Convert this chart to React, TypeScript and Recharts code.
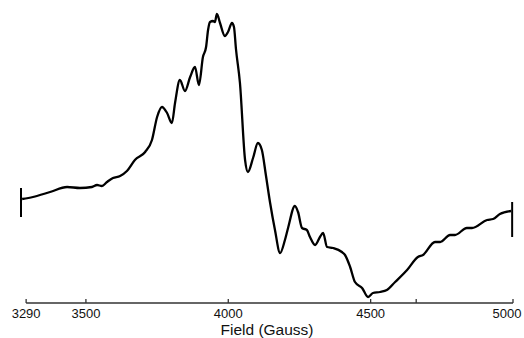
import { LineChart, Line, XAxis, YAxis, ReferenceLine, Label } from "recharts";

// field in Gauss, signal in arbitrary units (derivative EPR spectrum)
const FIELD = [
    3276, 3314, 3374, 3434, 3479, 3521, 3539, 3556, 3574, 3595, 3620, 3644, 3672, 3708, 3732,
    3750, 3767, 3785, 3802, 3813, 3830, 3848, 3866, 3883, 3897, 3911, 3922, 3929, 3936, 3946,
    3953, 3960, 3971, 3988, 3999, 4013, 4020, 4027, 4041, 4059, 4069, 4087, 4104, 4118, 4132,
    4147, 4164, 4182, 4199, 4210, 4234, 4245, 4259, 4276, 4287, 4305, 4322, 4333, 4347, 4368,
    4399, 4410, 4428, 4445, 4470, 4491, 4508, 4533, 4557, 4586, 4628, 4666, 4684, 4726, 4744,
    4779, 4796, 4838, 4856, 4909, 4930, 4954, 4993,
];
const SIGNAL = [
    0, 2, 7, 12, 11, 12, 14, 13, 17, 21, 23, 28, 39, 47, 59,
    82, 92, 86, 76, 96, 119, 108, 122, 132, 114, 142, 152, 169, 177, 178,
    177, 185, 176, 163, 167, 176, 172, 150, 116, 39, 27, 41, 56, 49, 24,
    -4, -31, -54, -41, -29, -7, -13, -29, -31, -38, -46, -38, -34, -48, -49,
    -53, -56, -68, -83, -89, -98, -94, -93, -91, -83, -71, -58, -56, -43, -43,
    -36, -36, -29, -29, -21, -20, -15, -12,
];

const TICKS = [3290, 3500, 4000, 4500, 4660, 5000];
const TICK_LABELS = ["3290", "3500", "4000", "4500", "", "5000"];

// end markers of the sweep
const LEFT_MARK = { field: 3272, top: 11, bottom: -18 };
const RIGHT_MARK = { field: 4997, top: -3, bottom: -38 };

const data = FIELD.map((field, i) => ({ field, signal: SIGNAL[i] }));

const FONT = "'Liberation Sans', Arial, Helvetica, sans-serif";

const FieldTick = ({ x, y, payload }: any) => {
    const i = TICKS.indexOf(payload.value);
    // last label is pulled in so it stays on the page
    const shift = i === TICKS.length - 1 ? -6 : 0;
    return (
        <g>
            <line x1={x} x2={x} y1={y - 4} y2={y} stroke="#333" strokeWidth={1.3} />
            <text x={x + shift} y={y} dy={15} textAnchor="middle" fontSize={13} fill="#111" fontFamily={FONT}>
                {TICK_LABELS[i]}
            </text>
        </g>
    );
};

export default function App() {
    return (
        <div>
            <style>{"body{margin:0}"}</style>
            <LineChart
                width={524}
                height={338}
                data={data}
                margin={{ top: 0, right: 11, bottom: 5, left: 21 }}
            >
                <XAxis
                    dataKey="field"
                    type="number"
                    domain={[3272, 5000]}
                    ticks={TICKS}
                    interval={0}
                    axisLine={false}
                    tickLine={false}
                    tickSize={0}
                    tickMargin={0}
                    tick={<FieldTick />}
                    height={30}
                >
                    <Label
                        content={({ viewBox }: any) => (
                            <text
                                x={viewBox.x + viewBox.width / 2}
                                y={viewBox.y + 32}
                                textAnchor="middle"
                                fontSize={15.5}
                                fill="#111"
                                fontFamily={FONT}
                            >
                                Field (Gauss)
                            </text>
                        )}
                    />
                </XAxis>
                <YAxis hide type="number" domain={[-104, 199]} />
                <ReferenceLine
                    segment={[{ x: 3290, y: -104 }, { x: 5000, y: -104 }]}
                    stroke="#333"
                    strokeWidth={1.3}
                    ifOverflow="visible"
                />
                <ReferenceLine
                    segment={[{ x: LEFT_MARK.field, y: LEFT_MARK.top }, { x: LEFT_MARK.field, y: LEFT_MARK.bottom }]}
                    stroke="#000"
                    strokeWidth={2}
                    ifOverflow="visible"
                />
                <ReferenceLine
                    segment={[{ x: RIGHT_MARK.field, y: RIGHT_MARK.top }, { x: RIGHT_MARK.field, y: RIGHT_MARK.bottom }]}
                    stroke="#000"
                    strokeWidth={2}
                    ifOverflow="visible"
                />
                <Line
                    type="monotone"
                    dataKey="signal"
                    stroke="#000"
                    strokeWidth={2.3}
                    dot={false}
                    isAnimationActive={false}
                />
            </LineChart>
        </div>
    );
}
